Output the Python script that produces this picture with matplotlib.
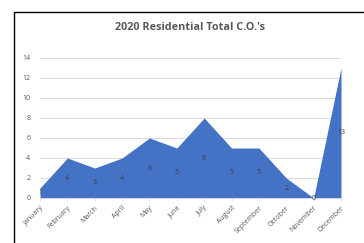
import matplotlib
matplotlib.use('Agg')
import matplotlib.pyplot as plt
from matplotlib.patches import Rectangle

plt.rcParams['font.family'] = ['Open Sans', 'DejaVu Sans']

months = ['January', 'February', 'March', 'April', 'May', 'June', 'July',
          'August', 'September', 'October', 'November', 'December']
cos = [1, 4, 3, 4, 6, 5, 8, 5, 5, 2, 0, 13]

fig = plt.figure(figsize=(3.64, 2.43), dpi=100)
ax = fig.add_axes([40 / 364, 1 - 198 / 243, 301 / 364, 140 / 243])

x = list(range(len(months)))
ax.fill_between(x, cos, 0, color='#4472C4', lw=0, zorder=2)

for xi, v in zip(x, cos):
    ax.text(xi, v / 2, str(v), ha='center', va='center', fontsize=5,
            color='#404040', zorder=3)

ax.set_xlim(0, 11)
ax.set_ylim(0, 14)
ax.set_yticks(range(0, 15, 2))
ax.set_xticks(x)
ax.set_xticklabels(months, rotation=45, ha='right', rotation_mode='anchor')
ax.tick_params(axis='x', labelsize=5, colors='#595959', length=2.5,
               width=0.5, color='#d9d9d9', pad=2)
ax.tick_params(axis='y', labelsize=5, colors='#595959', length=0, pad=7)
ax.grid(axis='y', color='#d9d9d9', lw=0.7, zorder=1)
for s in ['top', 'right', 'left']:
    ax.spines[s].set_visible(False)
ax.spines['bottom'].set_color('#d9d9d9')
ax.spines['bottom'].set_linewidth(0.7)

fig.text(190 / 364, 1 - 28 / 243, "2020 Residential Total C.O.'s",
         ha='center', va='center', fontsize=7.8, fontweight='bold',
         color='#595959')

fig.patches.append(Rectangle((14 / 364, -0.1), 1.2, 1 - 12 / 243 + 0.1,
                             transform=fig.transFigure, fill=False,
                             edgecolor='black', lw=1.0, clip_on=False))

fig.savefig('out.png', dpi=100)
